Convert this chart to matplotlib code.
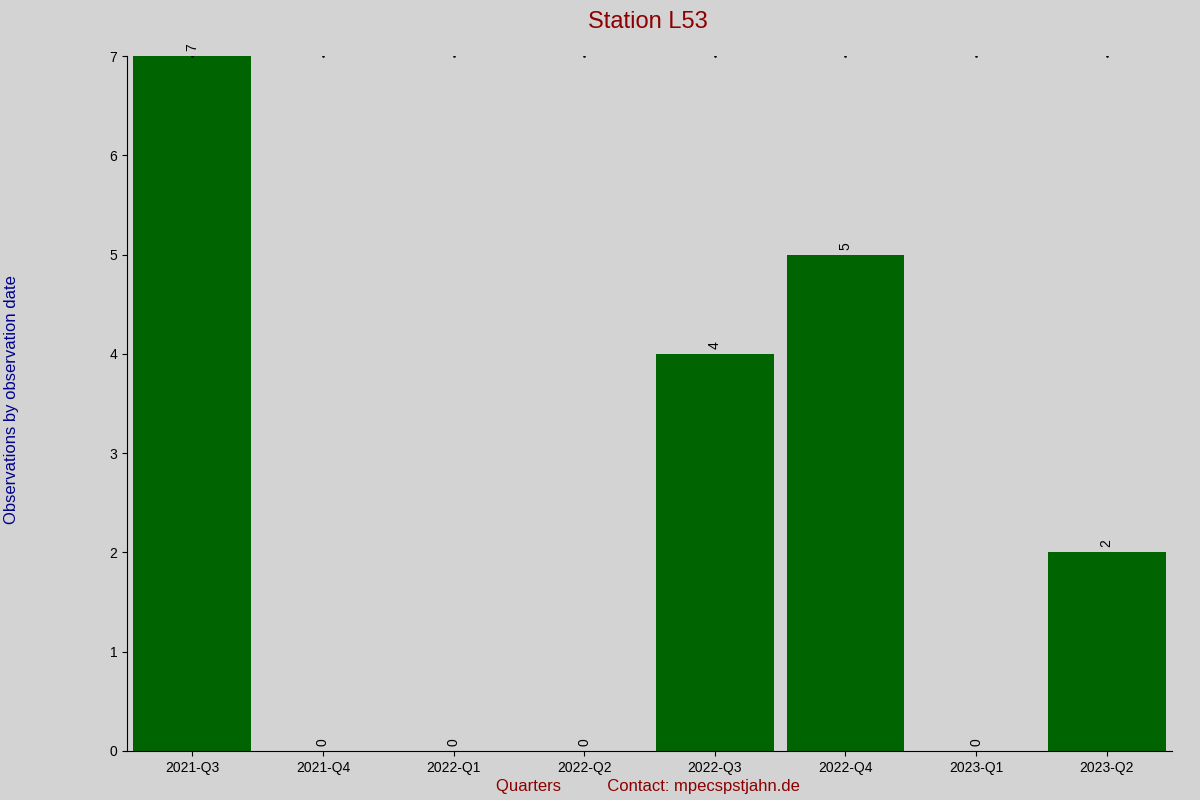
import matplotlib
matplotlib.use("Agg")
import matplotlib.pyplot as plt

quarters = ["2021-Q3","2021-Q4","2022-Q1","2022-Q2","2022-Q3","2022-Q4","2023-Q1","2023-Q2"]
counts = [7,0,0,0,4,5,0,2]

plt.rcParams['font.family'] = ['Liberation Sans', 'DejaVu Sans']
fig = plt.figure(figsize=(12,8), dpi=100, facecolor='#d3d3d3')
ax = fig.add_axes([0.1058, 0.06125, 0.8709, 0.86875])
ax.set_facecolor('#d3d3d3')
x = list(range(len(quarters)))
ax.bar(x, counts, width=0.9, color='#006400')
for xi, c in zip(x, counts):
    ax.text(xi, c + 0.05, str(c), rotation=90, ha='center', va='bottom', fontsize=10)
    ax.plot([xi], [7], marker='s', markersize=0.8, color='black')
ax.set_xlim(-0.5, 7.5)
ax.set_ylim(0, 7)
ax.set_xticks(x)
ax.set_xticklabels(quarters, fontsize=10)
ax.set_yticks(range(8))
ax.tick_params(labelsize=10)
for s in ['top','right']:
    ax.spines[s].set_visible(False)
fig.text(0.54, 0.972, "Station L53", ha='center', va='center', fontsize=17, color='#8b0000')
fig.text(0.0095, 0.5, "Observations by observation date", rotation=90, ha='center', va='center', fontsize=12, color='#00008b')
fig.text(0.54, 0.017, "Quarters          Contact: mpecs\u0327pstjahn.de".replace("\u0327",""), ha='center', va='center', fontsize=12, color='#8b0000')
fig.savefig("out.png", facecolor=fig.get_facecolor())
